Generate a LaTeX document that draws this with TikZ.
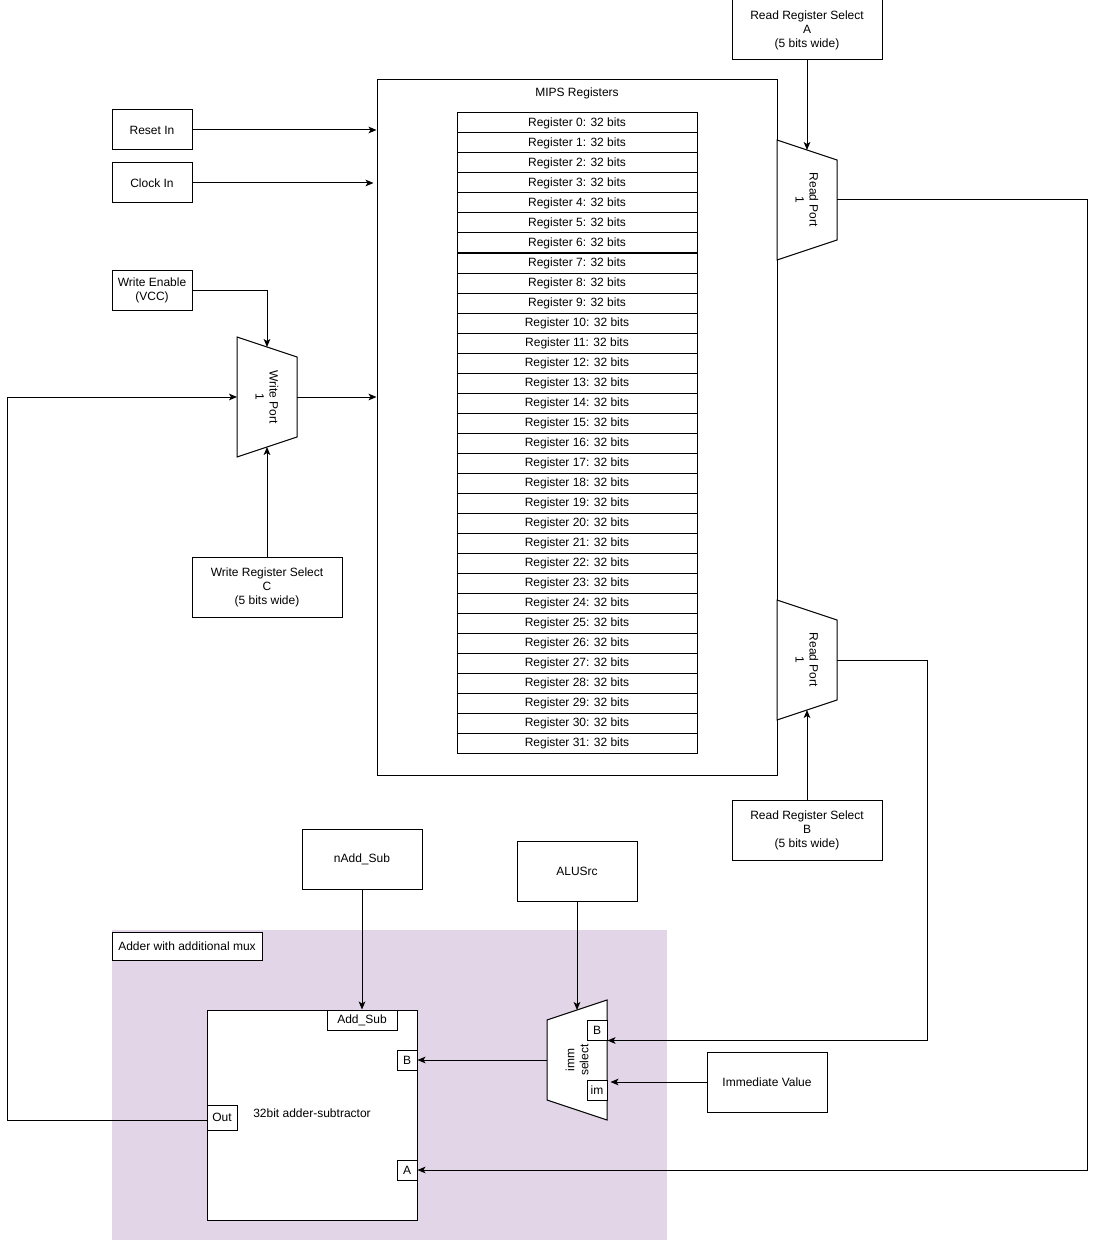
\documentclass[tikz,border=0pt]{standalone}
\usepackage{fontspec}
\setmainfont{Liberation Sans}
\usepackage{xcolor}
\usepackage{tikz}
\usetikzlibrary{
  arrows.meta,
  positioning,
  calc
}

\definecolor{groupfill}{HTML}{E1D5E7}

\tikzset{
  box/.style={draw=black, fill=white, line width=0.75pt, inner sep=1pt, align=center},
  regrow/.style={box, minimum width=180pt, minimum height=15pt},
  portbox/.style={box, minimum width=15pt, minimum height=15pt},
  wire/.style={draw=black, line width=0.75pt},
  sig/.style={wire, -{Stealth[length=6pt, width=5pt, inset=1.5pt]}},
  muxshape/.style={draw=black, fill=white, line width=0.75pt},
  muxtext/.style={rotate=-90, align=center, inner sep=0pt}
}

\begin{document}
\begin{tikzpicture}[x=0.75pt, y=-0.75pt, font=\fontsize{9}{10.5}\selectfont]
  \useasboundingbox (0,0) rectangle (1096,1241);

  % register file
  \node[box, minimum width=300pt, minimum height=521.25pt] (mips) at (577,427.5) {};
  \node[inner sep=0pt] (mipstitle) at (577,93) {MIPS Registers};
  \foreach \i in {0,...,31}
    \node[regrow] (r\i) at (577,123+20*\i) {Register \i: 32 bits};

  % inputs on the left
  \node[box, minimum width=60pt, minimum height=30pt] (resetin) at (152,130) {Reset In};
  \node[box, minimum width=60pt, minimum height=30pt] (clockin) at (152,183) {Clock In};
  \node[box, minimum width=60pt, minimum height=30pt] (wenable) at (152,290) {Write Enable\\(VCC)};
  \node[box, minimum width=112.5pt, minimum height=45pt] (wselc) at (267,587) {Write Register Select\\C\\(5 bits wide)};

  % read selects
  \node[box, minimum width=112.5pt, minimum height=45pt] (rsela) at (807,30) {Read Register Select\\A\\(5 bits wide)};
  \node[box, minimum width=112.5pt, minimum height=45pt] (rselb) at (807,830) {Read Register Select\\B\\(5 bits wide)};

  % ports
  \draw[muxshape] (237,337) -- (297,357) -- (297,437) -- (237,457) -- cycle;
  \node[muxtext] (wport) at (267,397) {Write Port\\1};
  \coordinate (wpin) at (237,397);
  \coordinate (wpout) at (297,397);
  \coordinate (wptop) at (267,347);
  \coordinate (wpbot) at (267,447);

  \draw[muxshape] (777,140) -- (837,160) -- (837,240) -- (777,260) -- cycle;
  \node[muxtext] (rport1) at (807,200) {Read Port\\1};
  \coordinate (rp1out) at (837,200);
  \coordinate (rp1top) at (807,150);

  \draw[muxshape] (777,600) -- (837,620) -- (837,700) -- (777,720) -- cycle;
  \node[muxtext] (rport2) at (807,660) {Read Port\\1};
  \coordinate (rp2out) at (837,660);
  \coordinate (rp2bot) at (807,710);

  % adder group
  \fill[groupfill] (112,930) rectangle (667,1240);
  \node[box, minimum width=112.5pt, minimum height=21pt] (grouplabel) at (187,946) {Adder with additional mux};

  \node[box, minimum width=157.5pt, minimum height=157.5pt] (adder) at (312,1115) {};
  \node[inner sep=0pt] (addertext) at (312,1113) {32bit adder-subtractor};
  \node[box, minimum width=52.5pt, minimum height=15pt] (addsub) at (362,1020) {Add\_Sub};
  \node[portbox] (portb) at (407,1060) {B};
  \node[portbox] (porta) at (407,1170) {A};
  \node[box, minimum width=22.5pt, minimum height=18.75pt] (portout) at (222,1117.5) {Out};

  \draw[muxshape] (547,1020) -- (607,1000) -- (607,1120) -- (547,1100) -- cycle;
  \node[muxtext, rotate=180] (immsel) at (577,1060) {imm\\select};
  \node[portbox] (muxb) at (597,1030) {B};
  \node[portbox] (muxim) at (597,1090) {im};
  \coordinate (muxout) at (547,1060);
  \coordinate (muxtop) at (577,1010);

  % control inputs
  \node[box, minimum width=90pt, minimum height=45pt] (naddsub) at (362,859) {nAdd\_Sub};
  \node[box, minimum width=90pt, minimum height=45pt] (alusrc) at (577,871) {ALUSrc};
  \node[box, minimum width=90pt, minimum height=45pt] (immval) at (767,1082) {Immediate Value};

  % wires
  \draw[sig] (resetin.east) -- (resetin.east -| mips.west);
  \draw[sig] (clockin.east) -- ([xshift=-2.25pt]clockin.east -| mips.west);
  \draw[sig] (wenable.east) -| (wptop);
  \draw[sig] (wselc.north) -- (wpbot);
  \draw[sig] (wpout) -- (wpout -| mips.west);
  \draw[sig] (rsela.south) -- (rp1top);
  \draw[sig] (rselb.north) -- (rp2bot);
  \draw[sig] (rp1out) -- (1087,200) |- (porta.east);
  \draw[sig] (rp2out) -- (927,660) |- (muxb.south east);
  \draw[sig] (immval.west) -- ([xshift=2.25pt]muxim.east |- immval.west);
  \draw[sig] (muxout) -- (portb.east);
  \draw[sig] (naddsub.south) -- (addsub.north);
  \draw[sig] (alusrc.south) -- (muxtop);
  \draw[sig] (portout.west |- 0,1120) -- (7,1120) |- (wpin);
\end{tikzpicture}
\end{document}
